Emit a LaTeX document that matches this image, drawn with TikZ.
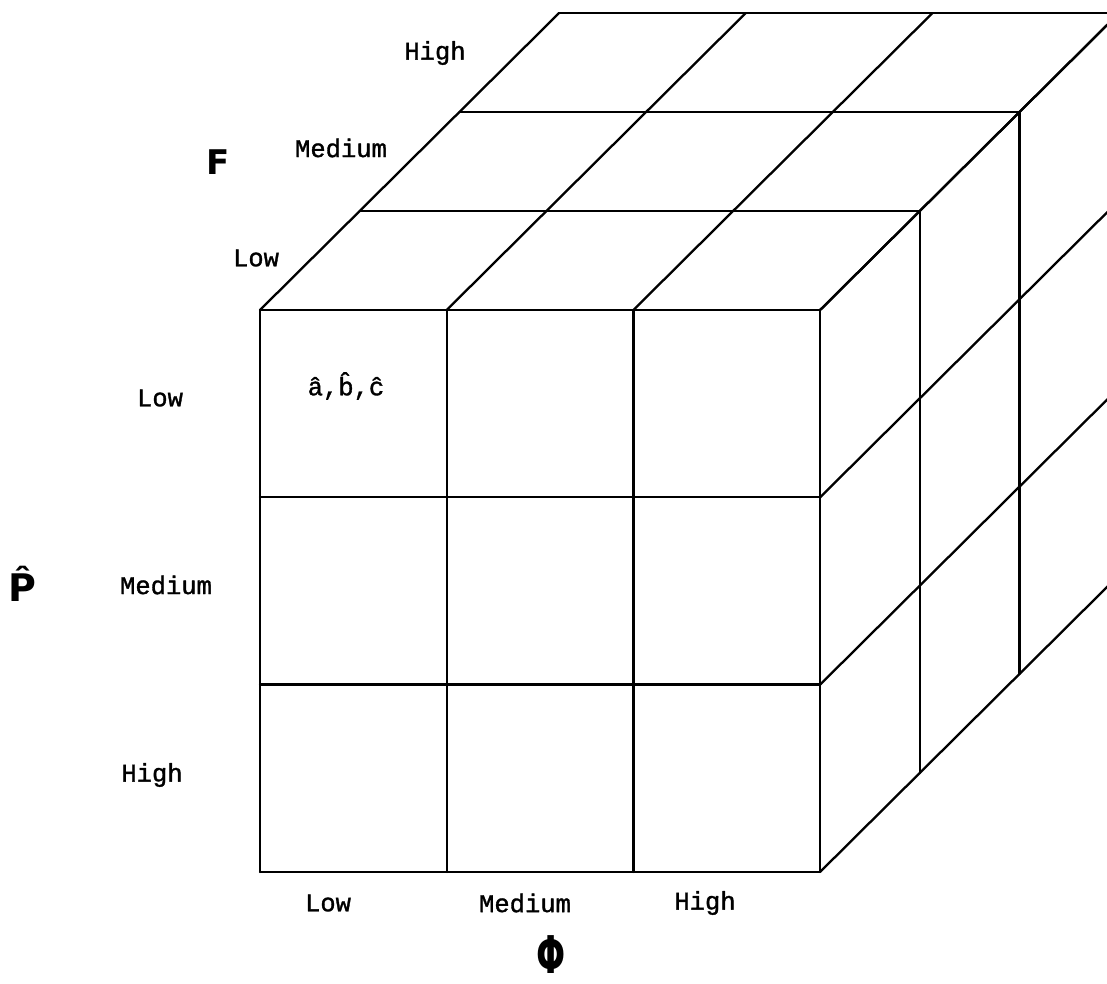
\documentclass[tikz,border=0pt]{standalone}
\usepackage{fontspec}
\setmainfont[FakeBold=1.3]{Liberation Mono}
\newfontfamily\symf{DejaVu Sans}
\begin{document}
\begin{tikzpicture}[x=1pt,y=-1pt, line width=2.3pt, line cap=round, line join=round,
  lbl/.style={font=\fontsize{25.5}{30}\selectfont, inner sep=0pt},
  axis/.style={font=\symf\bfseries\fontsize{34}{40}\selectfont, inner sep=0pt}]
\useasboundingbox (0,0) rectangle (1107,984);
\def\xo{260}\def\yo{310}\def\cw{186.7}\def\ch{187.3}\def\dx{99.7}\def\dy{-99}
\begin{scope}
\clip (0,0) rectangle (1107,984);
% front face grid
\foreach \i in {0,...,3}{
  \draw ({\xo+\i*\cw},\yo) -- ({\xo+\i*\cw},{\yo+3*\ch});
  \draw (\xo,{\yo+\i*\ch}) -- ({\xo+3*\cw},{\yo+\i*\ch});
}
% layers behind: top edges and right-face verticals
\foreach \k in {1,2,3}{
  \draw ({\xo+\k*\dx},{\yo+\k*\dy}) -- ({\xo+3*\cw+\k*\dx},{\yo+\k*\dy})
        -- ({\xo+3*\cw+\k*\dx},{\yo+3*\ch+\k*\dy});
}
% depth lines on top face and right face
\foreach \i in {0,...,3}{
  \draw ({\xo+\i*\cw},\yo) -- ++({3*\dx},{3*\dy});
  \draw ({\xo+3*\cw},{\yo+\i*\ch}) -- ++({3*\dx},{3*\dy});
}
\end{scope}
% F axis
\node[lbl] (fH) at (435,53) {High};
\node[lbl] (fM) at (341,148) {Medium};
\node[lbl] (fL) at (256,258) {Low};
\node[axis] (F) at (218,162) {F};
% P axis
\node[lbl] (pL) at (160,398) {Low};
\node[lbl] (pM) at (166,585) {Medium};
\node[lbl] (pH) at (152,775) {High};
\node[axis, font=\symf\bfseries\fontsize{38}{44}\selectfont] (P) at (22,584) {P̂};
% cell label
\node[lbl] (abc) at (346,386) {â,b̂,ĉ};
% Phi axis
\node[lbl] (xL) at (328,903) {Low};
\node[lbl] (xM) at (525,903) {Medium};
\node[lbl] (xH) at (705,903) {High};
\node[axis, font=\symf\bfseries\fontsize{52}{56}\selectfont, xscale=0.66] (Phi) at (551,955) {Φ};
\end{tikzpicture}
\end{document}
